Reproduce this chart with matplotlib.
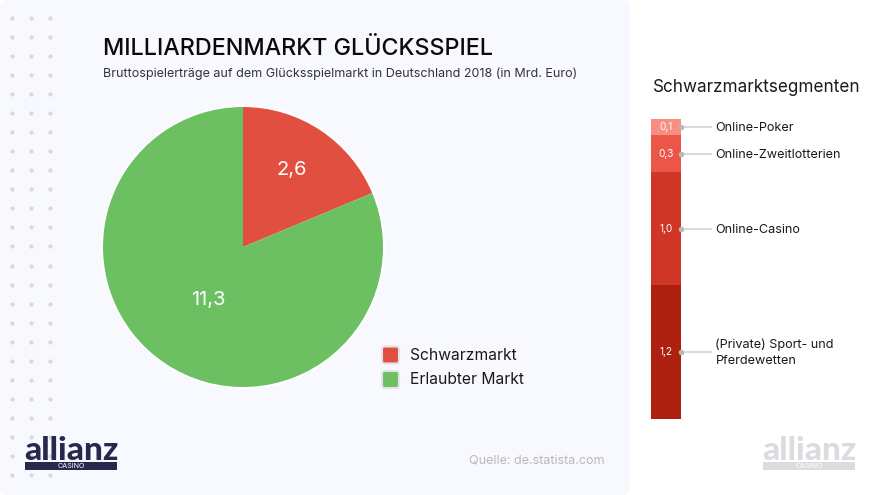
import matplotlib
matplotlib.use('Agg')
import matplotlib.pyplot as plt
from matplotlib.patches import Circle, FancyBboxPatch, Rectangle

plt.rcParams['font.family'] = ['Inter', 'DejaVu Sans']

W, H = 880, 495

market_labels = ['Schwarzmarkt', 'Erlaubter Markt']
market_values = [2.6, 11.3]
market_text = ['2,6', '11,3']
market_colors = ['#e04f3f', '#6cc062']

segment_names = ['Online-Poker', 'Online-Zweitlotterien', 'Online-Casino', '(Private) Sport- und\nPferdewetten']
segment_values = [0.14, 0.32, 0.98, 1.16]
segment_text = ['0,1', '0,3', '1,0', '1,2']
segment_colors = ['#f98d82', '#ec5648', '#cf3626', '#ad2010']

dots_x = [12, 31, 50]
dots_y = [18 + 19.04 * i for i in range(25)]


def px_axes(fig, x0, y0, x1, y1):
    # axes from pixel box, y counted from the top
    return fig.add_axes([x0 / W, 1 - y1 / H, (x1 - x0) / W, (y1 - y0) / H])


def logo(ax, x, y, color, bar_text):
    ax.text(x - 1, y + 24.5, 'allianz', fontsize=24, fontweight='black', family='Lato', color=color, va='baseline')
    ax.add_patch(Rectangle((x, y + 27), 92, 8, color=color, lw=0))
    ax.text(x + 46, y + 31.2, 'CASINO', fontsize=5.2, color=bar_text, ha='center', va='center')


fig = plt.figure(figsize=(W / 100, H / 100), dpi=100, facecolor='white')

# background layer in pixel coordinates
bg = fig.add_axes([0, 0, 1, 1])
bg.set_xlim(0, W)
bg.set_ylim(H, 0)
bg.axis('off')
bg.add_patch(FancyBboxPatch((0, 0), 630, H, boxstyle='round,pad=0,rounding_size=8', fc='#f8f9fe', ec='none'))
for dx in dots_x:
    bg.scatter([dx] * len(dots_y), dots_y, s=9, color='#d8d8dc', lw=0)
bg.add_patch(Circle((243, 247), 142, fc='white', ec='none'))

bg.text(103, 49, 'MILLIARDENMARKT GLÜCKSSPIEL', fontsize=16.8, fontweight='medium', color='#0a0a0a', va='center')
bg.text(103, 74, 'Bruttospielerträge auf dem Glücksspielmarkt in Deutschland 2018 (in Mrd. Euro)', fontsize=9.05, color='#33333a', va='center')
bg.text(653, 88, 'Schwarzmarktsegmenten', fontsize=12.3, color='#1a1a1a', va='center')
bg.text(605, 461, 'Quelle: de.statista.com', fontsize=9, color='#b9b9bd', ha='right', va='center')

logo(bg, 25, 435, '#28284f', '#f8f9fe')
logo(bg, 763, 435, '#dcdce0', '#ffffff')

# pie
ax = px_axes(fig, 103, 107, 383, 387)
ax.pie(market_values, colors=market_colors, startangle=90, counterclock=False, radius=1,
       wedgeprops={'linewidth': 0})
ax.set_xlim(-1, 1)
ax.set_ylim(-1, 1)
ax.patch.set_visible(False)
ax.text(0.35, 0.55, market_text[0], color='white', fontsize=14.5, ha='center', va='center')
ax.text(-0.25, -0.375, market_text[1], color='white', fontsize=14.5, ha='center', va='center')

# legend
for y, col, lab in zip([355, 379.5], market_colors, market_labels):
    bg.add_patch(FancyBboxPatch((382, y - 8.5), 17, 17, boxstyle='round,pad=0,rounding_size=2.5',
                                fc=col, ec='#e3e3ea', lw=1.5))
    bg.text(410, y, lab, fontsize=11.25, color='#1a1a1a', va='center')

# stacked bar
stack = px_axes(fig, 651, 119, 681, 419)
stack.set_xlim(0, 1)
stack.set_ylim(sum(segment_values), 0)
stack.axis('off')
bottom = 0
for val, col, txt, name in zip(segment_values, segment_colors, segment_text, segment_names):
    stack.bar(0.5, val, width=1, bottom=bottom, color=col, lw=0)
    mid = bottom + val / 2
    stack.text(0.5, mid, txt, color='white', fontsize=7.2, ha='center', va='center')
    stack.plot([1.0, 2.0], [mid, mid], color='#dadada', lw=1.5, clip_on=False, solid_capstyle='round')
    stack.plot([1.0], [mid], 'o', color='#b9b9b9', ms=3, clip_on=False)
    stack.text(2.15, mid + 0.008, name, color='#1a1a1a', fontsize=9.1, va='center', linespacing=1.45)
    bottom += val

fig.savefig('out.png', dpi=100, facecolor='white')
